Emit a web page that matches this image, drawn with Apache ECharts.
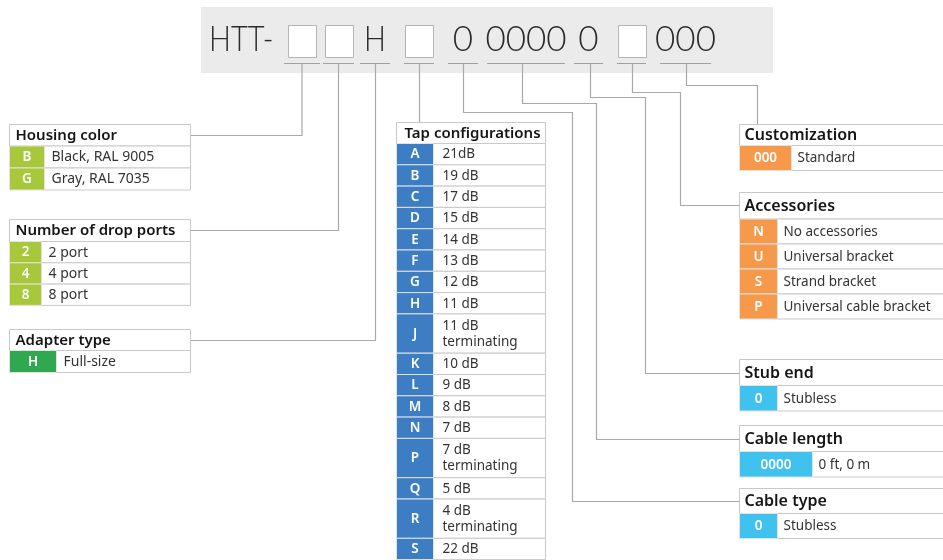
<!DOCTYPE html>
<html><head><meta charset="utf-8">
<script src="https://cdn.jsdelivr.net/npm/echarts@6/dist/echarts.min.js"></script>
<style>html,body{margin:0;padding:0;background:#fff}#c{width:943px;height:560px}</style>
</head><body><div id="c"></div>
<script>
// ---------- data ----------
const partPrefix = 'HTT-';
const partSegments = ['', '', 'H', '', '0', '0000', '0', '', '000']; // '' = blank placeholder box

const housingTitle = 'Housing color';
const housingCodes = ['B', 'G'];
const housingLabels = ['Black, RAL 9005', 'Gray, RAL 7035'];

const dropTitle = 'Number of drop ports';
const dropCodes = ['2', '4', '8'];
const dropLabels = ['2 port', '4 port', '8 port'];

const adapterTitle = 'Adapter type';
const adapterCodes = ['H'];
const adapterLabels = ['Full-size'];

const tapTitle = 'Tap configurations';
const tapCodes = ['A','B','C','D','E','F','G','H','J','K','L','M','N','P','Q','R','S'];
const tapLabels = ['21dB','19 dB','17 dB','15 dB','14 dB','13 dB','12 dB','11 dB','11 dB\nterminating',
  '10 dB','9 dB','8 dB','7 dB','7 dB\nterminating','5 dB','4 dB\nterminating','22 dB'];

const customTitle = 'Customization';
const customCodes = ['000'];
const customLabels = ['Standard'];

const accTitle = 'Accessories';
const accCodes = ['N', 'U', 'S', 'P'];
const accLabels = ['No accessories', 'Universal bracket', 'Strand bracket', 'Universal cable bracket'];

const stubTitle = 'Stub end';
const stubCodes = ['0'];
const stubLabels = ['Stubless'];

const lengthTitle = 'Cable length';
const lengthCodes = ['0000'];
const lengthLabels = ['0 ft, 0 m'];

const cableTypeTitle = 'Cable type';
const cableTypeCodes = ['0'];
const cableTypeLabels = ['Stubless'];

// ---------- layout / style (kept separate from data) ----------
const FONT = '"Noto Sans", "Open Sans", sans-serif';
const C_LIME = '#a7c83a', C_GREEN = '#2fa84f', C_BLUE = '#3d7dc3', C_ORANGE = '#f6994b', C_CYAN = '#40c2ef';
const BORDER = '#c9c9c9', LEADER = '#a9a9a9';

const tables = [
  {title: housingTitle, codes: housingCodes, labels: housingLabels, x: 9.5, y: 124.5, x1: 190.5, codeW: 35, titleH: 21.5, rowH: 22, color: C_LIME, tSize: 15, lSize: 14, pad: 7},
  {title: dropTitle, codes: dropCodes, labels: dropLabels, x: 9.5, y: 219.5, x1: 190.5, codeW: 32, titleH: 22, rowH: 21.3, color: C_LIME, tSize: 15, lSize: 14, pad: 7},
  {title: adapterTitle, codes: adapterCodes, labels: adapterLabels, x: 9.5, y: 329.5, x1: 190.5, codeW: 47, titleH: 21, rowH: 22, color: C_GREEN, tSize: 15, lSize: 14, pad: 7},
  {title: tapTitle, codes: tapCodes, labels: tapLabels, x: 396.5, y: 122.5, x1: 545.5, codeW: 37, titleH: 21, rowH: 21.3, rowH2: 39.3, color: C_BLUE, tSize: 15, lSize: 13.5, pad: 9},
  {title: customTitle, codes: customCodes, labels: customLabels, x: 739.5, y: 124.5, x1: 960, codeW: 52, titleH: 21, rowH: 25, color: C_ORANGE, tSize: 16, lSize: 13.5, pad: 6},
  {title: accTitle, codes: accCodes, labels: accLabels, x: 739.5, y: 192.5, x1: 960, codeW: 38, titleH: 26.5, rowH: 25, color: C_ORANGE, tSize: 16, lSize: 13.5, pad: 6},
  {title: stubTitle, codes: stubCodes, labels: stubLabels, x: 739.5, y: 359.5, x1: 960, codeW: 38, titleH: 26, rowH: 25.5, color: C_CYAN, tSize: 16, lSize: 13.5, pad: 6},
  {title: lengthTitle, codes: lengthCodes, labels: lengthLabels, x: 739.5, y: 425.5, x1: 960, codeW: 73, titleH: 26, rowH: 25.5, color: C_CYAN, tSize: 16, lSize: 13.5, pad: 6},
  {title: cableTypeTitle, codes: cableTypeCodes, labels: cableTypeLabels, x: 739.5, y: 488.5, x1: 960, codeW: 38, titleH: 25, rowH: 25, color: C_CYAN, tSize: 16, lSize: 13.5, pad: 6}
];

// header layout
const headerBox = [201, 7, 773, 73];
const underlineY = 63.5;
const segUnder = [[284,320],[323,354],[360,390],[404,434],[448,478],[487,565],[574,603],[617,646],[660,711]];
const boxY = [25.5, 57.5];

// leader routes
const leaders = [
  [[302,63],[302,135.5],[191,135.5]],
  [[338.5,63],[338.5,230.5],[191,230.5]],
  [[375.5,63],[375.5,340.5],[191,340.5]],
  [[419.5,63],[419.5,122.5]],
  [[463.5,63],[463.5,112.5],[572.5,112.5],[572.5,501.5],[739.5,501.5]],
  [[522.5,63],[522.5,103.5],[596.5,103.5],[596.5,439.5],[739.5,439.5]],
  [[590.5,63],[590.5,97.5],[645.5,97.5],[645.5,373.5],[739.5,373.5]],
  [[632.5,63],[632.5,92.5],[680.5,92.5],[680.5,205.5],[739.5,205.5]],
  [[686.5,63],[686.5,85.5],[757.5,85.5],[757.5,124.5]]
];

// ---------- build cells ----------
const cells = [];
tables.forEach(t => {
  cells.push({x0: t.x, y0: t.y, x1: t.x1, y1: t.y + t.titleH, fill: '#fff', stroke: BORDER,
    text: t.title, color: '#151515', font: '600 ' + t.tSize + 'px ' + FONT, align: 'left', pad: t.pad - 1});
  let y = t.y + t.titleH;
  t.codes.forEach((code, i) => {
    const label = t.labels[i];
    const h = label.indexOf('\n') >= 0 ? t.rowH2 : t.rowH;
    cells.push({x0: t.x + t.codeW, y0: y, x1: t.x1, y1: y + h, fill: '#fff', stroke: BORDER,
      text: label, color: '#333', font: t.lSize + 'px ' + FONT, align: 'left', pad: t.pad, lh: 16});
    cells.push({x0: t.x, y0: y, x1: t.x + t.codeW, y1: y + h, fill: t.color, stroke: '#e2e2e2',
      text: code, color: '#fff', font: '600 13.5px ' + FONT, align: 'center'});
    y += h;
  });
});

const headerItems = [];
headerItems.push({kind: 'bg', x0: headerBox[0], y0: headerBox[1], x1: headerBox[2], y1: headerBox[3]});
headerItems.push({kind: 'text', text: partPrefix, x0: 209, y0: 40, x1: 209, y1: 40, align: 'left', sx: 0.83});
partSegments.forEach((s, i) => {
  const [a, b] = segUnder[i];
  const cx = (a + b) / 2;
  if (s === '') headerItems.push({kind: 'box', x0: cx - 14, y0: boxY[0], x1: cx + 14, y1: boxY[1]});
  else headerItems.push({kind: 'text', text: s, x0: cx, y0: 40, x1: cx, y1: 40, align: 'center', sx: /\d/.test(s) ? 1 : 0.83});
});

const chart = echarts.init(document.getElementById('c'), null, {renderer: 'canvas'});
chart.setOption({
  animation: false,
  backgroundColor: '#fff',
  grid: {left: 0, right: 0, top: 0, bottom: 0},
  xAxis: {type: 'value', min: 0, max: 943, show: false},
  yAxis: {type: 'value', min: 0, max: 560, inverse: true, show: false},
  series: [
    {
      type: 'custom', z: 1, silent: true,
      data: headerItems.map(h => [h.x0, h.y0, h.x1, h.y1]),
      encode: {x: [0, 2], y: [1, 3]},
      renderItem: function (params, api) {
        const h = headerItems[params.dataIndex];
        const p0 = api.coord([api.value(0), api.value(1)]);
        const p1 = api.coord([api.value(2), api.value(3)]);
        if (h.kind === 'bg') return {type: 'rect', shape: {x: p0[0], y: p0[1], width: p1[0] - p0[0], height: p1[1] - p0[1]}, style: {fill: '#ebebeb'}};
        if (h.kind === 'box') return {type: 'rect', shape: {x: Math.round(p0[0]) + 0.5, y: p0[1], width: p1[0] - p0[0], height: p1[1] - p0[1]}, style: {fill: '#fff', stroke: '#b5b5b5', lineWidth: 1}};
        return {type: 'text', x: p0[0], y: p0[1], scaleX: h.sx, style: {text: h.text, fill: '#2b2b2b', font: '300 35px Lato, "Open Sans", sans-serif', textAlign: h.align, textVerticalAlign: 'middle'}};
      }
    },
    {
      type: 'lines', coordinateSystem: 'cartesian2d', polyline: true, z: 2, silent: true,
      lineStyle: {color: LEADER, width: 1.2, opacity: 1},
      data: leaders.map(c => ({coords: c}))
    },
    {
      type: 'lines', coordinateSystem: 'cartesian2d', polyline: false, z: 2, silent: true,
      lineStyle: {color: '#a0a0a0', width: 1, opacity: 1},
      data: segUnder.map(s => ({coords: [[s[0], underlineY], [s[1], underlineY]]}))
    },
    {
      type: 'custom', z: 3, silent: true,
      data: cells.map(c => [c.x0, c.y0, c.x1, c.y1]),
      encode: {x: [0, 2], y: [1, 3]},
      renderItem: function (params, api) {
        const c = cells[params.dataIndex];
        const p0 = api.coord([api.value(0), api.value(1)]);
        const p1 = api.coord([api.value(2), api.value(3)]);
        const tx = c.align === 'center' ? (p0[0] + p1[0]) / 2 : p0[0] + c.pad;
        return {type: 'group', children: [
          {type: 'rect', shape: {x: p0[0], y: p0[1], width: p1[0] - p0[0], height: p1[1] - p0[1]}, style: {fill: c.fill, stroke: c.stroke, lineWidth: 1}},
          {type: 'text', x: tx, y: (p0[1] + p1[1]) / 2 + 0.5, style: {text: c.text, fill: c.color, font: c.font, textAlign: c.align, textVerticalAlign: 'middle', lineHeight: c.lh || 16}}
        ]};
      }
    }
  ]
});
</script></body></html>
